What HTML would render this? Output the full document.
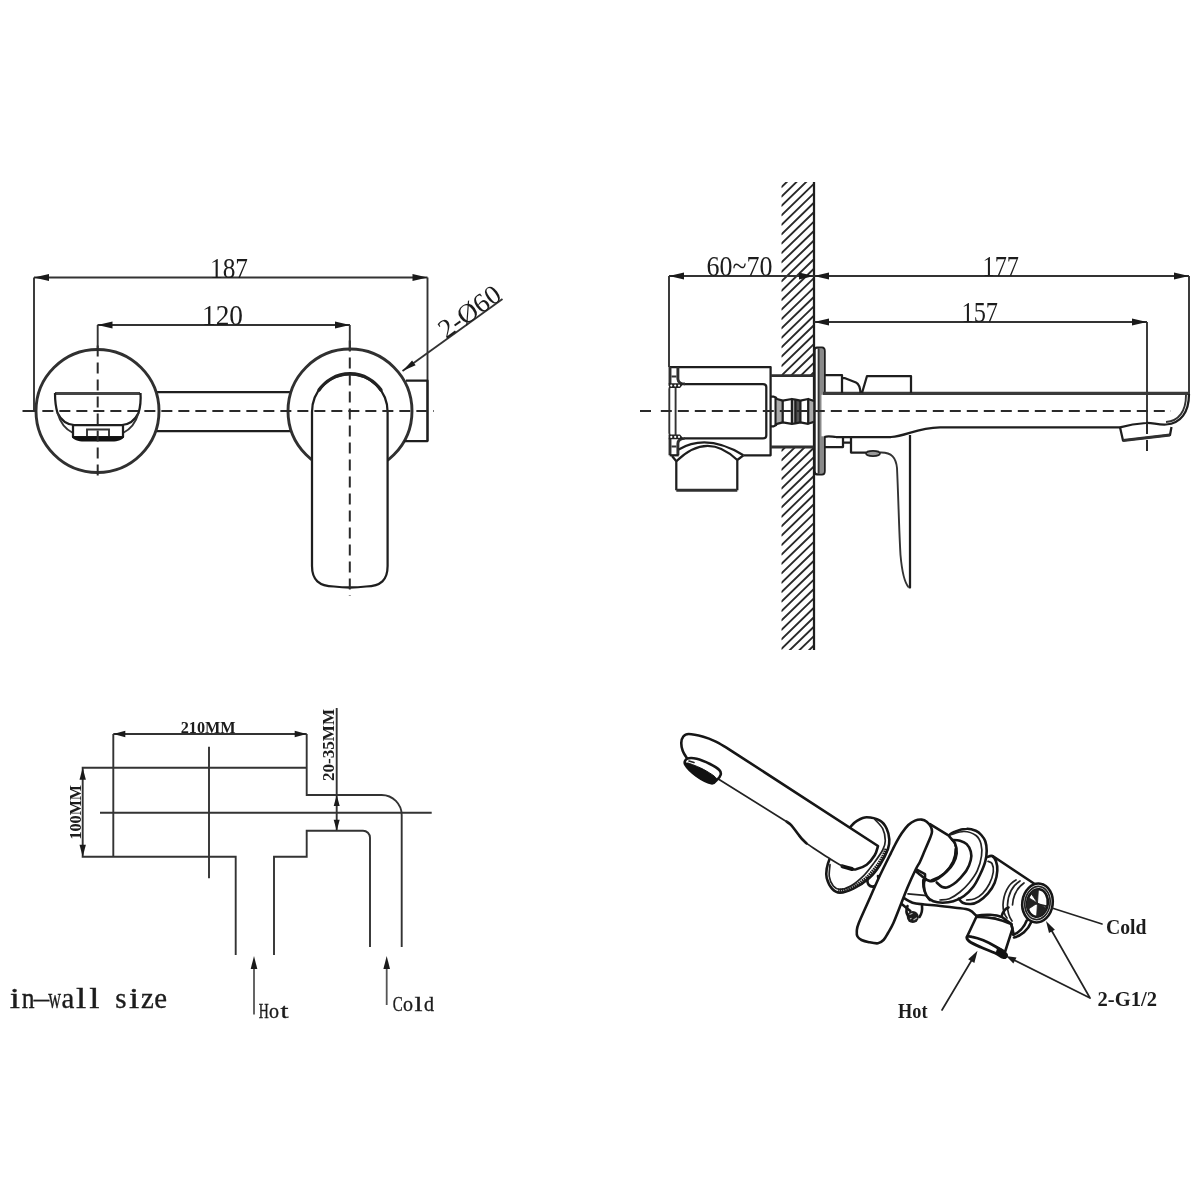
<!DOCTYPE html>
<html><head><meta charset="utf-8"><title>drawing</title>
<style>
html,body{margin:0;padding:0;background:#fff;}
body{width:1200px;height:1200px;overflow:hidden;font-family:"Liberation Serif",serif;}
svg{display:block;filter:blur(0.45px)}
.m{stroke:#1e1e1e;stroke-width:2.25;fill:none;stroke-linecap:butt;stroke-linejoin:round}
.mw{stroke:#1e1e1e;stroke-width:2.25;fill:#fff;stroke-linejoin:round}
.k{stroke:#303030;stroke-width:2.9;fill:none}
.t{stroke:#333;stroke-width:1.9;fill:none}
.tw{stroke:#333;stroke-width:1.9;fill:#fff}
.im{stroke:#161616;stroke-width:2.6;fill:none;stroke-linejoin:round;stroke-linecap:round}
.imw{stroke:#161616;stroke-width:2.6;fill:#fff;stroke-linejoin:round}
.it{stroke:#222;stroke-width:1.7;fill:none;stroke-linecap:round}
.h{stroke:#2a2a2a;stroke-width:1.9;fill:none}
.d{stroke:#2a2a2a;stroke-width:2;fill:none;stroke-dasharray:11 6}
.a{fill:#1a1a1a;stroke:none}
text{font-family:"Liberation Serif",serif;fill:#1c1c1c}
.b{font-weight:bold}
.mono{font-family:"Liberation Mono",monospace}
</style></head><body>
<svg width="1200" height="1200" viewBox="0 0 1200 1200">
<rect width="1200" height="1200" fill="#fff"/>

<g id="front">
<path class="t" d="M34,277.5H427.5M34,277.5V411M427.5,277.5V441"/>
<polygon class="a" points="34.0,277.5 49.0,273.9 49.0,281.1"/>
<polygon class="a" points="427.5,277.5 412.5,281.1 412.5,273.9"/>
<path class="t" d="M97.5,325H350"/>
<polygon class="a" points="97.5,325.0 112.5,321.4 112.5,328.6"/>
<polygon class="a" points="350.0,325.0 335.0,328.6 335.0,321.4"/>
<text x="210" y="277.5" font-size="29.5" textLength="38" lengthAdjust="spacingAndGlyphs">187</text>
<text x="202" y="325" font-size="29.5" textLength="41" lengthAdjust="spacingAndGlyphs">120</text>
<path class="m" d="M156,392H291M156,431H291"/>
<circle class="k" cx="97.5" cy="411" r="61.5"/>
<circle class="k" cx="350" cy="411" r="62"/>
<path class="m" d="M406,380.5H427.5V441H404"/>
<path class="mw" d="M312,412 A37.8,38 0 0 1 387.6,412 L387.6,566 C387.6,580 381,586 366,586.5 Q350,588.5 334,586.5 C319,586 312,580 312,566 Z"/>
<path d="M319,390 A37.8,38 0 0 1 381,390" stroke="#222" stroke-width="3.3" fill="none" stroke-linecap="round"/>
<path d="M55,393.5H140" stroke="#444" stroke-width="3.2" fill="none"/>
<path class="m" d="M55,393 C55,400 56,408 57.5,413 C61,420 66,424.5 74,425 H122 C130,424.5 135,420 138.5,413 C140,408 141,400 140.5,393"/>
<path class="t" d="M57.5,413 C60,422 65,429 73,433 M138.5,413 C136,422 131,429 123,433"/>
<path class="m" d="M73,425V437H123V425"/>
<path d="M72,436.5H124 C123,440 118,441.5 112,441.5H84 C78,441.5 73,440 72,436.5Z" fill="#111"/>
<path class="t" d="M87,436V429.5H109V436"/>
<path class="d" d="M25.35,411H434" stroke-dasharray="10 7.15"/><path class="d" d="M22.5,411H27" stroke-dasharray="none"/>
<path class="d" d="M97.7,345.45V478" stroke-dasharray="10 7.15"/>
<path class="d" d="M349.8,340.4V596" stroke-dasharray="11.2 6"/>
<path class="t" d="M97.7,325V348 M349.8,325V351"/>
<path class="t" d="M402.5,371L502.5,299"/>
<polygon class="a" points="402.5,371.0 412.1,360.4 415.6,365.3"/>
<text transform="translate(446.3,339.3) rotate(-35.8)" font-size="27" textLength="70" lengthAdjust="spacingAndGlyphs">2-Ø60</text>
</g>
<g id="side">
<defs><clipPath id="wc"><rect x="781.5" y="182" width="32.5" height="194"/><rect x="781.5" y="447.5" width="32.5" height="202.5"/></clipPath></defs>
<g clip-path="url(#wc)">
<path class="h" d="M781,168.7L815,135.7M781,178.2L815,145.2M781,187.6L815,154.6M781,197.0L815,164.0M781,206.4L815,173.4M781,215.8L815,182.8M781,225.3L815,192.3M781,234.7L815,201.7M781,244.1L815,211.1M781,253.5L815,220.5M781,262.9L815,229.9M781,272.4L815,239.4M781,281.8L815,248.8M781,291.2L815,258.2M781,300.6L815,267.6M781,310.0L815,277.0M781,319.5L815,286.5M781,328.9L815,295.9M781,338.3L815,305.3M781,347.7L815,314.7M781,357.1L815,324.1M781,366.6L815,333.6M781,376.0L815,343.0M781,385.4L815,352.4M781,394.8L815,361.8M781,404.2L815,371.2M781,413.7L815,380.7M781,423.1L815,390.1M781,432.5L815,399.5M781,441.9L815,408.9M781,451.3L815,418.3M781,460.8L815,427.8M781,470.2L815,437.2M781,479.6L815,446.6M781,489.0L815,456.0M781,498.4L815,465.4M781,507.9L815,474.9M781,517.3L815,484.3M781,526.7L815,493.7M781,536.1L815,503.1M781,545.5L815,512.5M781,555.0L815,522.0M781,564.4L815,531.4M781,573.8L815,540.8M781,583.2L815,550.2M781,592.6L815,559.6M781,602.1L815,569.1M781,611.5L815,578.5M781,620.9L815,587.9M781,630.3L815,597.3M781,639.7L815,606.7M781,649.2L815,616.2M781,658.6L815,625.6M781,668.0L815,635.0M781,677.4L815,644.4"/>
</g>
<path class="m" d="M814,182V650"/>
<path class="t" d="M669,276H814M669,276V367M814,276H1189M1189,276V394M814,322H1147M1147,322V423"/>
<polygon class="a" points="669.0,276.0 684.0,272.4 684.0,279.6"/>
<polygon class="a" points="814.0,276.0 799.0,279.6 799.0,272.4"/>
<polygon class="a" points="814.0,276.0 829.0,272.4 829.0,279.6"/>
<polygon class="a" points="1189.0,276.0 1174.0,279.6 1174.0,272.4"/>
<polygon class="a" points="814.0,322.0 829.0,318.4 829.0,325.6"/>
<polygon class="a" points="1147.0,322.0 1132.0,325.6 1132.0,318.4"/>
<text x="706.5" y="275.5" font-size="29" textLength="66" lengthAdjust="spacingAndGlyphs">60~70</text>
<text x="982.5" y="275.5" font-size="29.5" textLength="36.5" lengthAdjust="spacingAndGlyphs">177</text>
<text x="961.5" y="321.5" font-size="29.5" textLength="36.5" lengthAdjust="spacingAndGlyphs">157</text>
<path class="m" d="M669.7,367H770.6V455.3H743.4"/>
<path class="k" d="M670,367V386 M677.9,367V379 Q678.3,384 685,384 M670,435V455.3 M677.9,455.3V443.5 Q678.3,438.4 685,438.4"/>
<path class="m" d="M685,384 H763 Q766.3,384 766.3,387 V435.4 Q766.3,438.4 763,438.4 H685"/>
<path class="t" d="M669.3,389 V433 M675.6,387.5V435 M669.3,389 Q669.5,386.5 671,385.5 M669.3,433 Q669.5,436 671,437"/>
<path d="M668.6,383.2H684L680,388H669.5Z M668.6,439.2H684L680,434.5H669.5Z" fill="#222"/>
<g fill="#fff"><circle cx="671.3" cy="385.6" r="1.1"/><circle cx="675.2" cy="385.6" r="1.1"/><circle cx="679" cy="385.6" r="1.1"/><circle cx="671.3" cy="436.9" r="1.1"/><circle cx="675.2" cy="436.9" r="1.1"/><circle cx="679" cy="436.9" r="1.1"/></g>
<path class="t" d="M671.5,376.5H676.5M671.5,446.5H676.5"/>
<path class="m" d="M669.7,455.3H678.7"/>
<path class="m" d="M678.7,449.5 Q707,433 743.4,455.3"/>
<path class="m" d="M676.3,461.3 Q707,431 737.3,460"/>
<path class="m" d="M672,456 L676.3,461.3 V490.3 M737.3,460V490.3 M743.4,455.3 L737.3,460"/>
<path class="k" d="M676.3,490.3H737.3"/>
<path class="k" d="M770.6,375.6H814 M770.6,447H814"/>
<path d="M777,399.5H782.7V423.3H777Z M791.9,399H795.4V423.8H791.9Z M808.2,399H813.5V423.8H808.2Z" fill="#aaa"/>
<path d="M795.8,400H800.2V422.8H795.8Z" fill="#555"/>
<path class="m" d="M770.3,396.6 H773.5 Q776,397 777,399 L782.7,400.6 L791.9,399 L795.4,399.6 L800.4,400.6 L808.2,399 L813.9,401 M770.3,426.3 H773.5 Q776,426 777,423.8 L782.7,422.3 L791.9,423.8 L795.4,423.3 L800.4,422.3 L808.2,423.8 L813.9,421.8"/>
<path class="m" d="M775.6,397V426 M782.7,400.6V422.3 M791.9,399V423.8 M795.4,399.6V423.3 M800.4,400.6V422.3 M808.2,399V423.8"/>
<path class="mw" d="M814.6,350 Q814.6,347.5 817,347.5 H822 Q824.6,347.5 824.6,351 V471 Q824.6,474.4 822,474.4 H817 Q814.6,474.4 814.6,471Z"/>
<path d="M819,348.5H822.5Q823.8,348.5 823.8,351V471Q823.8,473.5 822.5,473.5H819Z" fill="#8a8a8a"/>
<path class="t" d="M818.6,348.5V473.5"/>
<rect x="821.5" y="394.8" width="4.5" height="41.5" fill="#fff"/>
<path d="M823,393.3H1189" stroke="#3a3a3a" stroke-width="3.2" fill="none"/>
<path class="m" d="M824.5,437 C828,435.5 832,436.8 836,437 H891 C907,436 916,428 940,427.3 H1120"/>
<path class="m" d="M1189,394 C1189,412 1181,423.5 1166,424.5 C1158,425 1152,422.5 1146,423 C1137,423.5 1128,425 1120,427.3"/>
<path class="t" d="M1186,395 C1186,411 1179,421 1166,422"/>
<path class="m" d="M1120,427.3 L1123,440.5 L1170,435 L1171.5,427"/>
<path class="k" d="M1123,440.5 L1170,435"/>
<path class="m" d="M824.5,375H842V393 M842,378H844.5 L856,382.5 Q860,384.5 860.5,393 M862,393 L867,376H911V393"/>
<path class="m" d="M824.5,447H843V438 M843,442.5H851 M851,438V452.5H866 M908.5,587 L910,587.5 V435"/>
<path class="t" stroke-width="1.7" d="M880,452.5 C892,452 896,458 897,468 C898.5,500 899,530 900.5,555 C902,572 904,582 908.5,587"/>
<ellipse cx="873" cy="453.5" rx="7" ry="2.6" fill="#999" stroke="#222" stroke-width="1.6"/>
<path class="d" d="M660.8,411H1171" stroke-dasharray="9.6 7.75"/><path class="d" d="M640,411H651.7" stroke-dasharray="none"/>
<path class="d" d="M1147,423V455"/>
</g>
<g id="inwall">
<path class="t" d="M113.3,734H306.7 M113.3,734V856.7 M306.7,734V795 H381.7 A20,20 0 0 1 401.7,815 V947 M81.7,767.7H306.7 M100,812.7H431.7 M81.7,856.7H235.7V955 M274,955V856.7H306.7V830.7H363 A7,7 0 0 1 370,837.7 V947 M209,746.7V878.3 M82.7,767.7V856.7 M336.7,708V830.7"/>
<polygon class="a" points="113.3,734.0 125.3,730.8 125.3,737.2"/>
<polygon class="a" points="306.7,734.0 294.7,737.2 294.7,730.8"/>
<polygon class="a" points="82.7,767.7 85.9,779.7 79.5,779.7"/>
<polygon class="a" points="82.7,856.7 79.5,844.7 85.9,844.7"/>
<polygon class="a" points="336.7,795.0 339.7,806.0 333.7,806.0"/>
<polygon class="a" points="336.7,830.7 333.7,819.7 339.7,819.7"/>
<text class="b" x="180.7" y="733" font-size="16.5" textLength="55" lengthAdjust="spacingAndGlyphs">210MM</text>
<text class="b" transform="translate(80.5,839.5) rotate(-90)" font-size="16" textLength="54.5" lengthAdjust="spacingAndGlyphs">100MM</text>
<text class="b" transform="translate(334.3,781) rotate(-90)" font-size="16" textLength="72" lengthAdjust="spacingAndGlyphs">20-35MM</text>
<path d="M254,966V1014.5 M386.7,966V1005" stroke="#555" stroke-width="1.8" fill="none"/>
<polygon class="a" points="254.0,956.0 257.3,969.0 250.7,969.0"/>
<polygon class="a" points="386.7,956.0 390.0,969.0 383.4,969.0"/>
<text transform="translate(263.70,1018) scale(0.676,1)" text-anchor="middle" font-size="20.5" stroke="#1c1c1c" stroke-width="0.35">H</text><text transform="translate(274.10,1018) scale(0.976,1)" text-anchor="middle" font-size="20.5" stroke="#1c1c1c" stroke-width="0.35">o</text><text transform="translate(284.50,1018) scale(1.404,1)" text-anchor="middle" font-size="20.5" stroke="#1c1c1c" stroke-width="0.35">t</text>
<text transform="translate(397.70,1010.5) scale(0.731,1)" text-anchor="middle" font-size="20.5" stroke="#1c1c1c" stroke-width="0.35">C</text><text transform="translate(408.10,1010.5) scale(0.976,1)" text-anchor="middle" font-size="20.5" stroke="#1c1c1c" stroke-width="0.35">o</text><text transform="translate(418.50,1010.5) scale(1.404,1)" text-anchor="middle" font-size="20.5" stroke="#1c1c1c" stroke-width="0.35">l</text><text transform="translate(428.90,1010.5) scale(0.976,1)" text-anchor="middle" font-size="20.5" stroke="#1c1c1c" stroke-width="0.35">d</text>
<text transform="translate(14.93,1007.5) scale(1.270,1)" text-anchor="middle" font-size="29" stroke="#1c1c1c" stroke-width="0.35">i</text><text transform="translate(28.18,1007.5) scale(0.883,1)" text-anchor="middle" font-size="29" stroke="#1c1c1c" stroke-width="0.35">n</text><text transform="translate(41.42,1007.5) scale(1.060,1)" text-anchor="middle" font-size="29" stroke="#1c1c1c" stroke-width="0.35">&#8211;</text><text transform="translate(54.67,1007.5) scale(0.611,1)" text-anchor="middle" font-size="29" stroke="#1c1c1c" stroke-width="0.35">w</text><text transform="translate(67.92,1007.5) scale(0.994,1)" text-anchor="middle" font-size="29" stroke="#1c1c1c" stroke-width="0.35">a</text><text transform="translate(81.17,1007.5) scale(1.270,1)" text-anchor="middle" font-size="29" stroke="#1c1c1c" stroke-width="0.35">l</text><text transform="translate(94.42,1007.5) scale(1.270,1)" text-anchor="middle" font-size="29" stroke="#1c1c1c" stroke-width="0.35">l</text><text transform="translate(120.92,1007.5) scale(1.000,1)" text-anchor="middle" font-size="29" stroke="#1c1c1c" stroke-width="0.35">s</text><text transform="translate(134.18,1007.5) scale(1.270,1)" text-anchor="middle" font-size="29" stroke="#1c1c1c" stroke-width="0.35">i</text><text transform="translate(147.43,1007.5) scale(0.994,1)" text-anchor="middle" font-size="29" stroke="#1c1c1c" stroke-width="0.35">z</text><text transform="translate(160.68,1007.5) scale(0.994,1)" text-anchor="middle" font-size="29" stroke="#1c1c1c" stroke-width="0.35">e</text>
</g>
<g id="iso">
<path class="imw" d="M851.3,826.0 C854.5,822.5 854.7,822.2 857.3,820.7 C859.9,819.2 862.9,817.3 866.7,817.3 C870.5,817.3 876.7,818.8 880.0,820.7 C883.3,822.6 885.2,825.6 886.7,828.7 C888.2,831.8 889.1,836.0 889.3,839.3 C889.5,842.6 889.5,844.5 888.0,848.7 C886.5,852.9 883.1,859.8 880.0,864.7 C876.9,869.6 873.8,874.0 869.3,878.0 C864.8,882.0 858.2,886.2 853.3,888.7 C848.4,891.2 843.5,892.7 840.0,892.7 C836.5,892.7 834.2,891.2 832.0,888.7 C829.8,886.2 827.6,881.3 826.7,878.0 C825.8,874.7 826.2,872.0 826.7,868.7 C827.2,865.4 828.1,862.5 830.0,858.0 C831.9,853.5 834.5,847.3 838.0,842.0 C841.5,836.7 848.1,829.5 851.3,826.0Z" />
<path class="it" d="M874.7,819.3 C876.0,820.9 880.9,825.1 882.7,828.7 C884.5,832.3 885.3,837.2 885.3,840.7 C885.3,844.2 884.5,846.5 882.7,850.0 C880.9,853.5 877.8,857.8 874.7,862.0 C871.6,866.2 868.0,871.3 864.0,875.3 C860.0,879.3 854.7,883.7 850.7,886.0 C846.7,888.3 842.9,889.3 840.0,889.3 C837.1,889.3 835.1,888.1 833.3,886.0 C831.5,883.9 829.8,880.2 829.3,876.7 C828.8,873.2 829.9,866.7 830.0,864.7" />
<path d="M886.5,849 C884,857 877,868 868,877 C858,886 847,891.5 838,890.5" stroke="#1c1c1c" stroke-width="4.2" fill="none" stroke-dasharray="1.6 0.7"/>
<path class="im" d="M868,878 C866,884 870,888 875,886 C878,884 879,880 878,876"/>
<path d="M687.3,758.7 C686.5,757.4 683.7,753.4 682.7,750.7 C681.7,748.0 681.2,745.1 681.3,742.7 C681.4,740.3 682.1,738.0 683.3,736.5 C684.5,735.0 685.4,734.0 688.7,734.0 C692.0,734.0 698.9,735.5 703.3,736.7 C707.7,737.9 711.5,739.5 715.3,741.3 C719.1,743.1 724.2,746.3 726.0,747.3 L878,846  C877.5,847.5 876.6,852.2 874.7,855.3 C872.8,858.4 869.8,862.4 866.7,864.7 C863.6,867.0 859.1,868.8 856.0,869.3 C852.9,869.8 850.7,868.5 848.0,868.0 C845.3,867.5 843.5,867.9 840.0,866.0 C836.5,864.1 831.2,859.7 826.7,856.7 C822.2,853.7 817.0,850.5 813.3,848.0 C809.6,845.5 807.2,844.3 804.7,842.0 C802.2,839.7 799.9,836.3 798.0,834.0 C796.1,831.7 794.8,829.7 793.5,828.0 C792.2,826.3 790.6,824.7 790.0,824.0 L718.7,779.3Z" fill="#fff" stroke="none"/>
<path class="im" d="M687.3,758.7 C686.5,757.4 683.7,753.4 682.7,750.7 C681.7,748.0 681.2,745.1 681.3,742.7 C681.4,740.3 682.1,738.0 683.3,736.5 C684.5,735.0 685.4,734.0 688.7,734.0 C692.0,734.0 698.9,735.5 703.3,736.7 C707.7,737.9 711.5,739.5 715.3,741.3 C719.1,743.1 724.2,746.3 726.0,747.3 L878,846  C877.5,847.5 876.6,852.2 874.7,855.3 C872.8,858.4 869.8,862.4 866.7,864.7 C863.6,867.0 858.8,868.6 856.0,869.3 C853.2,869.9 851.0,868.7 850.0,868.6"/>
<path d="M852,869 L847,867.6 L842.5,866.3" stroke="#111" stroke-width="4" fill="none" stroke-linecap="round"/>
<path class="it" stroke-width="1.7" d="M843.0,866.3 C841.8,865.7 838.7,864.1 836.0,862.5 C833.3,860.9 830.5,859.1 826.7,856.7 C822.9,854.3 816.8,850.3 813.3,848.0 C809.8,845.7 807.2,843.8 806.0,843.0"/>
<path class="im" d="M806.5,843.3 C805.8,842.6 803.4,840.5 802.0,839.0 C800.6,837.5 799.4,835.8 798.0,834.0 C796.6,832.2 794.8,829.7 793.5,828.0 C792.2,826.3 791.2,825.1 790.0,824.0 C788.8,822.9 787.1,821.9 786.5,821.5"/>
<path class="it" d="M787.5,822.3 L718.7,779.3" stroke-width="1.6"/>
<path class="imw" d="M687.3,758.7 C689.2,757.7 692.9,757.8 696.7,758.7 C700.5,759.6 706.2,762.1 710.0,764.0 C713.8,765.9 717.5,768.2 719.3,770.0 C721.1,771.8 721.1,773.0 720.7,774.7 C720.3,776.4 718.3,778.6 716.7,780.0 C715.1,781.4 714.6,784.0 711.3,783.3 C708.0,782.6 701.0,779.1 696.7,776.0 C692.4,772.9 686.9,767.6 685.3,764.7 C683.7,761.8 685.4,759.7 687.3,758.7Z" />
<path d="M685.3,764.7 C683.7,762.5 686.1,763.0 687.3,763.0 C688.5,763.0 690.0,763.7 692.7,764.7 C695.4,765.8 699.8,767.4 703.3,769.3 C706.8,771.2 711.8,774.2 714.0,776.0 C716.2,777.8 717.0,778.8 716.5,780.0 C716.0,781.2 714.6,784.1 711.3,783.5 C708.0,782.9 701.0,779.6 696.7,776.5 C692.4,773.4 686.9,767.0 685.3,764.7Z" fill="#111" stroke="#111" stroke-width="1"/>
<path class="it" d="M689,761 l5,1.5"/>
<path class="imw" d="M930,824.2 L949.2,835.8  C950.2,837.0 953.8,840.4 955.0,843.3 C956.2,846.2 957.0,850.0 956.7,853.3 C956.4,856.6 955.0,860.2 953.3,863.3 C951.6,866.4 949.2,869.2 946.7,871.7 C944.2,874.2 940.8,876.7 938.3,878.3 C935.8,879.9 933.6,880.9 931.7,881.2 C929.8,881.5 929.0,881.4 926.7,880.0 C924.4,878.6 920.5,875.0 918.0,873.0 C915.5,871.0 913.0,868.8 912.0,868.0 L905,850 Z"/>
<path d="M956.2,849 C956.5,858 952,867 945,873.5 C941,877 936,879.5 932,880.8" stroke="#141414" stroke-width="3.6" fill="none" stroke-linecap="round"/>
<path class="im" d="M915.8,869.2 L925,874.2 L925,878.3 L926.7,880 M923.3,880 C923,885 923.8,889 925,891.7 C926.5,895 928,898 930,900"/>
<path class="im" d="M902.0,896.8 C903.8,897.8 908.8,901.5 912.5,902.8 C916.2,904.1 920.5,904.0 924.5,904.5 C928.5,905.0 931.6,905.0 936.7,905.5 C941.8,906.0 949.9,907.0 955.3,907.7 C960.7,908.5 965.8,908.6 969.3,910.0 C972.8,911.4 975.1,914.8 976.3,915.8" />
<path class="im" d="M902,904.3 L910.3,911"/>
<path class="it" d="M908,893.8 L924.5,895.3 L936,897"/>
<circle cx="912.8" cy="917" r="6" fill="#1e1e1e"/><path d="M909.5,914.5l3,-1.2M913.5,920l3.5,-2.2M910,919l1.5,-0.8" stroke="#bbb" stroke-width="1.2" fill="none"/>
<path class="im" d="M907.5,906 C906,910 906.5,914 908,916 M922,906 C922.5,910 921.5,914 919.5,917"/>
<path class="imw" d="M949.2,835.8 C949.2,833.9 952.1,832.9 955.0,831.7 C957.9,830.5 963.2,828.9 966.7,828.8 C970.2,828.6 973.4,829.8 975.8,830.8 C978.2,831.8 979.7,833.2 981.3,835.0 C982.9,836.8 984.4,838.7 985.3,841.3 C986.2,843.9 986.7,847.4 986.7,850.7 C986.7,854.0 986.4,857.3 985.3,861.3 C984.2,865.3 982.0,870.5 980.0,874.7 C978.0,878.9 976.0,883.2 973.3,886.7 C970.6,890.2 967.3,893.6 964.0,896.0 C960.7,898.4 956.8,900.2 953.3,901.3 C949.8,902.4 946.0,902.7 942.7,902.7 C939.4,902.7 936.0,902.4 933.3,901.3 C930.6,900.2 928.2,898.4 926.7,896.0 C925.2,893.6 924.2,889.4 924.0,886.7 C923.8,884.0 924.0,880.9 925.3,880.0 C926.6,879.1 929.5,881.5 931.7,881.2 C933.9,880.9 935.8,879.9 938.3,878.3 C940.8,876.7 944.2,874.2 946.7,871.7 C949.2,869.2 951.6,866.4 953.3,863.3 C955.0,860.2 956.4,856.6 956.7,853.3 C957.0,850.0 956.2,846.2 955.0,843.3 C953.8,840.4 949.2,837.7 949.2,835.8Z" />
<path class="it" d="M950.7,834.7 C952.9,834.2 959.8,831.4 964.0,831.5 C968.2,831.6 973.2,833.4 976.0,835.5 C978.8,837.6 980.1,840.6 981.0,844.0 C981.9,847.4 982.1,851.5 981.5,856.0 C980.9,860.5 979.3,866.2 977.3,870.7 C975.3,875.2 972.2,879.2 969.3,882.7 C966.4,886.2 963.3,889.3 960.0,892.0 C956.7,894.7 952.6,897.4 949.3,898.7 C946.0,900.0 941.5,899.8 940.0,900.0" />
<path class="im" d="M952.5,840.0 C953.8,840.1 957.6,840.1 960.0,840.8 C962.4,841.5 964.9,842.4 966.7,844.2 C968.5,846.0 970.1,849.1 970.8,851.7 C971.5,854.3 971.5,857.0 970.8,860.0 C970.1,863.0 968.5,867.0 966.7,870.0 C964.9,873.0 962.2,875.9 960.0,878.3 C957.8,880.7 955.5,882.7 953.3,884.2 C951.1,885.7 948.6,887.1 946.7,887.5 C944.8,887.9 943.4,887.5 941.7,886.7 C940.0,885.9 937.5,883.2 936.7,882.5" />
<path class="im" d="M986.7,857.3 C987.6,857.1 990.5,855.3 992.0,856.0 C993.5,856.7 995.1,858.8 996.0,861.3 C996.9,863.8 997.5,867.1 997.3,870.7 C997.1,874.3 996.2,878.9 994.7,882.7 C993.2,886.5 990.7,890.2 988.0,893.3 C985.3,896.4 981.6,899.5 978.7,901.3 C975.8,903.1 973.4,903.8 970.7,904.0 C968.0,904.2 964.7,903.6 962.7,902.7 C960.7,901.8 959.4,899.4 958.7,898.7" />
<path class="it" d="M988.0,861.3 C988.7,861.7 991.1,861.7 992.0,863.5 C992.9,865.3 993.8,868.6 993.3,872.0 C992.8,875.4 991.1,880.5 989.3,884.0 C987.5,887.5 985.1,890.8 982.7,893.3 C980.3,895.8 977.4,897.6 974.7,898.7 C972.0,899.8 968.0,899.8 966.7,900.0" />
<path class="im" d="M992.7,856 L1034.7,884"/>
<path class="it" d="M1016,880 C1008,884 1003.5,894 1003,905 C1003,911 1004.5,915 1007,918 M1020,881 C1012,886 1008,895 1007.5,905 C1007.5,912 1009,917 1012,921 M1024,883 C1017,888 1013,896 1012.5,905"/>
<g transform="translate(1037.5,903) rotate(8)"><ellipse class="imw" rx="15.2" ry="19.5" stroke-width="2.4"/><ellipse class="it" rx="12.6" ry="16.6"/><ellipse class="im" rx="10.3" ry="13.8" fill="#fff"/><path d="M0,0 L-8,-9 A10,13 0 0 1 -1,-13.5 Z M0,0 L-9,8 A10,13 0 0 1 -9.5,-4 Z M0,0 L9.5,4 A10,13 0 0 1 1,13.5 Z" fill="#222" stroke="#222" stroke-width="0.8"/><path class="it" d="M-10,0 L10,2"/></g>
<path class="im" d="M1026.7,920.5 C1024,928 1018,933 1013.3,934.7 M1031,922.5 C1028,930 1021,936 1014,937.5"/>
<path class="im" d="M976.3,915.8 C985,914 996,914.5 1002,917 L1011.3,924"/>
<path class="it" d="M978,919 C986,917 995,917.5 1000.5,920 L1008,925.5"/>
<path class="im" d="M1002,915 C1003.5,911 1005.5,908.5 1008.5,907.5"/>
<path class="imw" d="M976.3,917 L967,936.8 C975,938.5 996,946 1005,952 L1012.5,928.7 L1011.3,924 C1000,919 988,916.5 976.3,917Z"/>
<path d="M967.0,937.0 C967.4,936.2 969.3,936.2 972.0,936.8 C974.7,937.3 979.5,938.7 983.3,940.3 C987.1,941.9 991.5,944.2 995.0,946.2 C998.5,948.2 1002.0,950.4 1004.0,952.0 C1006.0,953.6 1006.9,955.1 1006.7,956.0 C1006.5,956.9 1005.0,958.0 1003.0,957.5 C1001.0,957.0 998.7,954.7 995.0,953.0 C991.3,951.3 985.2,949.2 981.0,947.3 C976.8,945.4 971.8,943.2 969.5,941.5 C967.2,939.8 966.6,937.8 967.0,937.0Z" fill="#fff" stroke="#141414" stroke-width="2.8"/>
<path d="M997,948.5 L1007.5,954 L1005.5,959 L995.5,953.5Z" fill="#111"/>
<path class="im" d="M1011.5,925 L1013.7,934.5"/>
<path class="imw" d="M915.0,820.6 C917.2,819.7 919.8,819.4 921.7,819.6 C923.7,819.8 925.2,820.5 926.7,821.7 C928.2,822.9 929.9,825.0 930.8,826.7 C931.7,828.4 932.1,829.8 932.0,831.7 C931.9,833.6 931.2,835.2 930.0,838.3 C928.8,841.3 926.7,846.1 925.0,850.0 C923.3,853.9 921.5,858.5 920.0,861.7 C918.5,864.9 917.9,864.9 915.8,869.2 C913.7,873.5 909.9,881.8 907.5,887.5 C905.1,893.2 903.7,897.3 901.3,903.3 C898.9,909.3 895.5,918.3 893.3,923.3 C891.1,928.2 889.6,930.2 888.0,933.0 C886.4,935.8 885.2,938.3 883.5,940.0 C881.8,941.7 880.4,942.9 878.0,943.3 C875.6,943.7 871.8,942.8 869.0,942.2 C866.2,941.7 863.4,941.0 861.5,940.0 C859.6,939.0 858.3,938.0 857.5,936.5 C856.7,935.0 856.6,933.2 856.8,931.0 C857.0,928.8 856.6,928.6 858.7,923.3 C860.8,918.0 865.8,907.3 869.3,899.3 C872.8,891.3 876.4,883.0 880.0,875.3 C883.6,867.6 888.0,858.9 890.8,853.3 C893.6,847.7 894.9,845.0 896.7,841.7 C898.5,838.4 899.8,836.1 901.7,833.3 C903.6,830.5 906.1,827.1 908.3,825.0 C910.5,822.9 912.8,821.5 915.0,820.6Z" stroke-width="2.3"/>
<path class="it" stroke-width="2" d="M942,1010 L974.5,955.5 M1090,998 L1011,958.5 M1090,998 L1049,926 M1052,908 L1102,924"/>
<polygon class="a" points="977.5,950.8 974.4,962.9 968.2,959.2"/>
<polygon class="a" points="1006.0,956.0 1016.5,957.5 1013.4,963.5"/>
<polygon class="a" points="1046.0,921.0 1054.9,929.7 1049.0,933.1"/>
<text class="b" x="898" y="1018" font-size="20" textLength="29.5" lengthAdjust="spacingAndGlyphs">Hot</text>
<text class="b" x="1106" y="933.5" font-size="20" textLength="40.5" lengthAdjust="spacingAndGlyphs">Cold</text>
<text class="b" x="1097.5" y="1006" font-size="20.5" textLength="59.5" lengthAdjust="spacingAndGlyphs">2-G1/2</text>
</g>
</svg></body></html>
